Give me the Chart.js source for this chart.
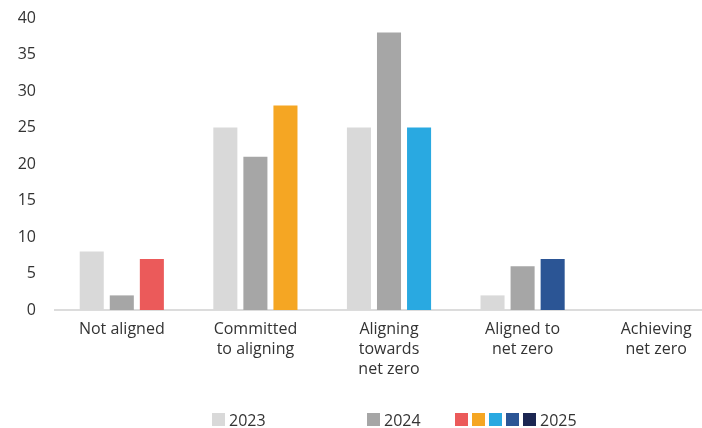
<!DOCTYPE html>
<html>
<head>
<meta charset="utf-8">
<script src="https://cdn.jsdelivr.net/npm/chart.js@4"></script>
<style>
  html,body{margin:0;padding:0;background:#fff;overflow:hidden;width:702px;height:428px;}
  #wrap{position:relative;width:724px;height:428px;}
  #legend{position:absolute;left:0;top:411px;height:17px;font-family:"Open Sans",sans-serif;font-size:16px;color:#333;}
  .item{position:absolute;top:0;display:flex;align-items:center;height:17px;}
  .sq{width:13px;height:13px;margin-right:4px;}
</style>
</head>
<body>
<div id="wrap">
  <canvas id="myChart" width="724" height="428"></canvas>
  <div id="legend"></div>
</div>
<script>
var categories=[["Not aligned"],["Committed","to aligning"],["Aligning","towards","net zero"],["Aligned to","net zero"],["Achieving","net zero"]];
var years=["2023","2024","2025"];
var values2023=[8,25,25,2,0];
var values2024=[2,21,38,6,0];
var values2025=[7,28,25,7,0];
var yTicks=[0,5,10,15,20,25,30,35,40];

var grey2023="#d9d9d9";
var grey2024="#a6a6a6";
var colors2025=["#eb5a5a","#f5a623","#29a9e1","#2b5595","#1c2652"];

var ctx=document.getElementById("myChart").getContext("2d");
var myChart=new Chart(ctx,{
    type:"bar",
    data:{
        labels:categories,
        datasets:[
            {label:years[0],data:values2023,backgroundColor:grey2023},
            {label:years[1],data:values2024,backgroundColor:grey2024},
            {label:years[2],data:values2025,backgroundColor:colors2025}
        ]
    },
    options:{
        responsive:false,
        animation:false,
        layout:{padding:{top:18,right:1,left:0,bottom:0}},
        datasets:{bar:{barPercentage:0.8,categoryPercentage:0.675}},
        plugins:{legend:{display:false},tooltip:{enabled:false}},
        scales:{
            x:{
                grid:{display:false,drawTicks:false},
                border:{display:true,color:"#dcdcdc",width:2},
                ticks:{color:"#333",font:{family:"'Open Sans'",size:16,lineHeight:1.25},padding:9,maxRotation:0,autoSkip:false},
                afterFit:function(scale){
                    scale.height=118;
                    scale.paddingLeft=0;scale.paddingRight=0;scale.paddingTop=0;scale.paddingBottom=0;
                }
            },
            y:{
                min:0,max:40,
                grid:{display:false,drawTicks:false},
                border:{display:false},
                afterBuildTicks:function(scale){scale.ticks=yTicks.map(function(v){return {value:v};});},
                ticks:{color:"#333",font:{family:"'Open Sans'",size:16},padding:19},
                afterFit:function(scale){
                    scale.width=55;
                    scale.paddingTop=0;scale.paddingBottom=0;
                }
            }
        }
    }
});

// legend: grey squares for 2023/2024, the five 2025 colours in a row
var legend=document.getElementById("legend");
function addItem(left,cols,text){
    var item=document.createElement("div");
    item.className="item";
    item.style.left=left+"px";
    cols.forEach(function(c){
        var s=document.createElement("span");
        s.className="sq";
        s.style.background=c;
        item.appendChild(s);
    });
    var t=document.createElement("span");
    t.textContent=text;
    item.appendChild(t);
    legend.appendChild(item);
}
addItem(212,[grey2023],years[0]);
addItem(367,[grey2024],years[1]);
addItem(455,colors2025,years[2]);
</script>
</body>
</html>
